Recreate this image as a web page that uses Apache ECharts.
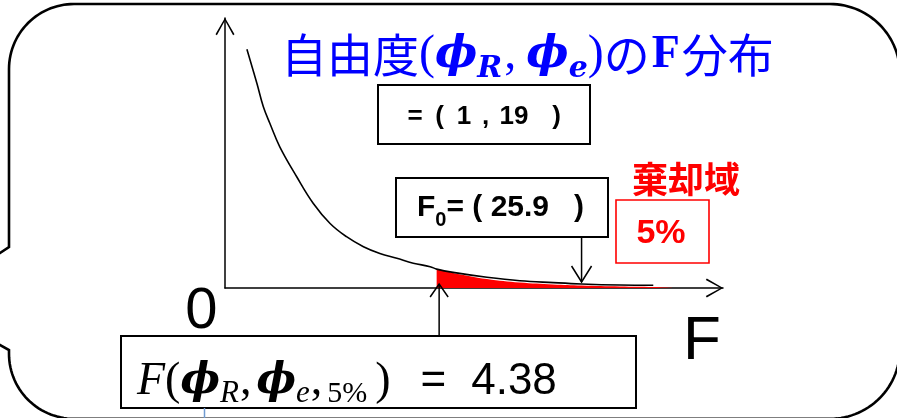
<!DOCTYPE html>
<html>
<head>
<meta charset="utf-8">
<script src="https://cdn.jsdelivr.net/npm/echarts@6/dist/echarts.min.js"></script>
<style>
html,body{margin:0;padding:0;background:#fff;}
#chart{width:897px;height:418px;}
</style>
</head>
<body>
<div id="chart"></div>
<script>
// F-distribution density curve (schematic units: x 0-100, y 0-100)
const curveX = [4.4, 6.4, 7.7, 9.0, 11.0, 14.4, 17.7, 21.1, 24.4, 27.8, 31.1, 34.5, 37.8, 41.2, 42.5, 45.8, 52.6, 59.2, 65.9, 71.6, 79.3, 86.0];
const curveY = [88.4, 75.8, 67.1, 61.0, 52.3, 41.2, 31.4, 23.9, 19.0, 15.3, 12.8, 11.0, 9.2, 7.9, 7.0, 5.8, 4.0, 2.7, 2.0, 1.5, 1.1, 1.0];
// rejection region (red shaded tail)
const rejectX = [42.5, 45.8, 52.6, 59.2, 65.9, 71.6, 79.3, 86.0, 90.0];
const rejectY = [7.0, 5.6, 3.3, 2.0, 1.3, 0.9, 0.55, 0.35, 0];
// annotation positions (x units)
const criticalX = 43.0;   // F(phiR, phiE, 5%) = 4.38
const f0X = 71.6;         // F0 = 25.9
// texts
const titleParts = ['自由度', 'ϕ', 'R', 'ϕ', 'e', 'の', 'F', '分布'];
const dofParts = ['=', '(', '1', ',', '19', ')'];
const f0Value = '25.9';
const rejectLabel = '棄却域';
const alphaLabel = '5%';
const critValue = '4.38';

const chevron = 'path://M9.5,0 L19,16.4 L17.6,17.4 L9.5,2.6 L1.4,17.4 L0,16.4 Z';

const chart = echarts.init(document.getElementById('chart'), null, {renderer: 'canvas'});
const axisCommon = {
  type: 'value', min: 0, max: 100,
  axisLine: {show: true, onZero: false, lineStyle: {color: '#000', width: 1.5},
    symbol: ['none', chevron], symbolSize: [19, 18], symbolOffset: [0, -8.5]},
  axisTick: {show: false}, axisLabel: {show: false}, splitLine: {show: false}
};
chart.setOption({
  animation: false,
  backgroundColor: '#fff',
  grid: {left: 225, right: 174, top: 18, bottom: 130, containLabel: false, outerBoundsMode: 'none'},
  xAxis: Object.assign({}, axisCommon),
  yAxis: Object.assign({}, axisCommon),
  series: [
    {type: 'line', data: rejectX.map((x, i) => [x, rejectY[i]]), smooth: 0.4,
     showSymbol: false, lineStyle: {width: 0}, areaStyle: {color: '#ff0000', opacity: 1}, z: 1, silent: true},
    {type: 'line', data: curveX.map((x, i) => [x, curveY[i]]), smooth: 0.4,
     showSymbol: false, lineStyle: {color: '#000', width: 1.6}, z: 2, silent: true}
  ]
});

const cx = chart.convertToPixel({gridIndex: 0}, [criticalX, 0])[0];
const fx = chart.convertToPixel({gridIndex: 0}, [f0X, 0])[0];
const blue = '#0000ff';
const serif = '"Liberation Serif", serif';
const dserif = '"DejaVu Serif", serif';
const sans = '"Liberation Sans", Arial, sans-serif';
const cjk = '"Noto Sans CJK JP", sans-serif';

// speech bubble outline as a polyline (arcs sampled)
function arcPts(ccx, ccy, r, a0, a1, n) {
  const pts = [];
  for (let i = 0; i <= n; i++) {
    const a = (a0 + (a1 - a0) * i / n) * Math.PI / 180;
    pts.push([ccx + r * Math.cos(a), ccy + r * Math.sin(a)]);
  }
  return pts;
}
const RL = 65, RR = 70, L = 9, T = 4, Rt = 900, B = 418.8;
let bubble = [[-2, 254.3], [L, 247]];
bubble = bubble.concat(arcPts(L + RL, T + RL, RL, 180, 270, 30));
bubble = bubble.concat(arcPts(Rt - RR, T + RR, RR, 270, 360, 30));
bubble = bubble.concat(arcPts(Rt - RR, B - RR, RR, 0, 90, 30));
bubble = bubble.concat(arcPts(L + RL, B - RL, RL, 90, 180, 30));
bubble.push([L, 350], [-2, 344]);

const g = [];
g.push({type: 'polyline', z: 0, shape: {points: bubble}, style: {fill: 'none', stroke: '#000', lineWidth: 2.6}});
// title
g.push({type: 'text', z: 100, style: {
  x: 281, y: 55, align: 'left', verticalAlign: 'middle',
  text: '{c|' + titleParts[0] + '}{p|(}{phi|' + titleParts[1] + '}{s|' + titleParts[2] + '}{pc|,}{phi|' + titleParts[3] + '}{s|' + titleParts[4] + '}{p|)}{c|' + titleParts[5] + '}{f|' + titleParts[6] + '}{c|' + titleParts[7] + '}',
  rich: {
    c: {fontSize: 46, fontFamily: cjk, fill: blue, lineHeight: 58},
    p: {fontSize: 48, fontFamily: serif, fill: blue, lineHeight: 58},
    pc: {fontSize: 48, fontFamily: serif, fill: blue, lineHeight: 58, padding: [0, 10, 0, 2]},
    phi: {fontSize: 45, fontFamily: dserif, fontWeight: 'bold', fontStyle: 'italic', fill: blue, lineHeight: 58},
    s: {fontSize: 30, fontFamily: dserif, fontWeight: 'bold', fontStyle: 'italic', fill: blue, lineHeight: 30, verticalAlign: 'bottom'},
    f: {fontSize: 46, fontFamily: serif, fontWeight: 'bold', fill: blue, lineHeight: 58, padding: [0, 2, 0, 2]}
  }}});
// degrees-of-freedom box
g.push({type: 'rect', z: 100, shape: {x: 378, y: 85, width: 212, height: 59}, style: {fill: '#fff', stroke: '#000', lineWidth: 2}});
const dofCenters = [415, 439.5, 464, 485.5, 514, 556.5];
dofParts.forEach((t, i) => {
  g.push({type: 'text', z: 101, style: {x: dofCenters[i], y: 117, align: 'center', verticalAlign: 'middle', text: t,
    font: 'bold 26px ' + sans, fill: '#000'}});
});
// F0 box
g.push({type: 'rect', z: 100, shape: {x: 396, y: 178, width: 212, height: 59}, style: {fill: '#fff', stroke: '#000', lineWidth: 2}});
g.push({type: 'text', z: 101, style: {x: 417, y: 208, align: 'left', verticalAlign: 'middle',
  text: '{b|F}{sub|0}{b|= ( ' + f0Value + '   )}',
  rich: {
    b: {fontSize: 30, fontWeight: 'bold', fontFamily: sans, fill: '#000', lineHeight: 44},
    sub: {fontSize: 20, fontWeight: 'bold', fontFamily: sans, fill: '#000', lineHeight: 20, verticalAlign: 'bottom'}
  }}});
// rejection region label + 5% box
g.push({type: 'text', z: 101, style: {x: 632, y: 179, align: 'left', verticalAlign: 'middle', text: rejectLabel,
  font: 'bold 36px ' + cjk, fill: '#ff0000'}});
g.push({type: 'rect', z: 100, shape: {x: 616, y: 200, width: 93, height: 63}, style: {fill: '#fff', stroke: '#ff0000', lineWidth: 1.6}});
g.push({type: 'text', z: 101, style: {x: 661, y: 234, align: 'center', verticalAlign: 'middle', text: alphaLabel,
  font: 'bold 34px ' + sans, fill: '#ff0000'}});
// axis letters
g.push({type: 'text', z: 101, style: {x: 201.5, y: 312, align: 'center', verticalAlign: 'middle', text: '0',
  font: '58px ' + sans, fill: '#000'}});
g.push({type: 'text', z: 101, style: {x: 702, y: 342, align: 'center', verticalAlign: 'middle', text: 'F',
  font: '62px ' + sans, fill: '#000'}});
// critical value box
g.push({type: 'rect', z: 100, shape: {x: 121, y: 336, width: 515, height: 72}, style: {fill: '#fff', stroke: '#000', lineWidth: 2}});
g.push({type: 'text', z: 101, style: {x: 137, y: 382, align: 'left', verticalAlign: 'middle',
  text: '{fi|F}{p|(}{phi|ϕ}{si|R}{pc|,}{phi|ϕ}{si|e}{pc|,}{sm|5%}{pr|)}{eq|=}{num|' + critValue + '}',
  rich: {
    fi: {fontSize: 46, fontStyle: 'italic', fontFamily: serif, fill: '#000', lineHeight: 54},
    p: {fontSize: 46, fontFamily: serif, fill: '#000', lineHeight: 54},
    pc: {fontSize: 46, fontFamily: serif, fill: '#000', lineHeight: 54, padding: [0, 5, 0, 1]},
    pr: {fontSize: 46, fontFamily: serif, fill: '#000', lineHeight: 54, padding: [0, 0, 0, 8]},
    phi: {fontSize: 42, fontStyle: 'italic', fontWeight: 'bold', fontFamily: dserif, fill: '#000', lineHeight: 54},
    si: {fontSize: 31, fontStyle: 'italic', fontFamily: serif, fill: '#000', lineHeight: 28, verticalAlign: 'bottom'},
    sm: {fontSize: 30, fontFamily: serif, fill: '#000', lineHeight: 36, verticalAlign: 'bottom'},
    eq: {fontSize: 44, fontFamily: sans, fill: '#000', lineHeight: 54, padding: [0, 0, 0, 30]},
    num: {fontSize: 44, fontFamily: sans, fill: '#000', lineHeight: 54, padding: [0, 0, 0, 25]}
  }}});
// small blue connector below the box
g.push({type: 'line', z: 100, shape: {x1: 204.5, y1: 408, x2: 204.5, y2: 418}, style: {stroke: '#6f9bd1', lineWidth: 1.5}});
// arrow from critical box up to the axis
g.push({type: 'polyline', z: 101, shape: {points: [[cx, 336], [cx, 284]]}, style: {stroke: '#000', lineWidth: 1.5, fill: 'none'}});
g.push({type: 'polyline', z: 101, shape: {points: [[cx - 9, 297], [cx, 284], [cx + 9, 297]]}, style: {stroke: '#000', lineWidth: 1.5, fill: 'none'}});
// arrow from F0 box down to the curve
g.push({type: 'polyline', z: 101, shape: {points: [[fx, 237], [fx, 282]]}, style: {stroke: '#000', lineWidth: 1.5, fill: 'none'}});
g.push({type: 'polyline', z: 101, shape: {points: [[fx - 10, 266], [fx, 282], [fx + 10, 266]]}, style: {stroke: '#000', lineWidth: 1.5, fill: 'none'}});

chart.setOption({graphic: g});
</script>
</body>
</html>
